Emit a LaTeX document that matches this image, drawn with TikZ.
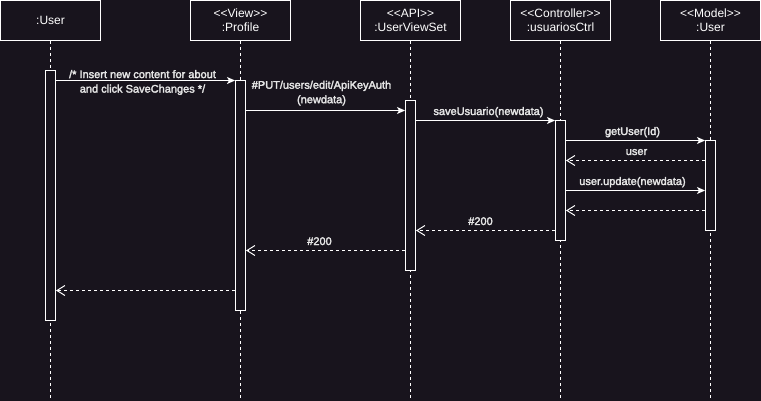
\documentclass[tikz,border=0pt]{standalone}
\usepackage{fontspec}
\setmainfont{Liberation Sans}
\newfontfamily\lblfont[FakeBold=2.5]{Liberation Sans}
\usetikzlibrary{arrows.meta, positioning}
\definecolor{bgdark}{HTML}{18141D}
\definecolor{lbltext}{HTML}{E6E6E6}
\newcommand{\stereo}[1]{<\kern0pt<#1>\kern0pt>}
\tikzset{
	lifebox/.style={draw=white, text=white, minimum width=100pt, minimum height=40pt, align=center, inner sep=0pt, font=\fontsize{12}{14}\selectfont},
	actbar/.style={draw=white, fill=bgdark, minimum width=10pt, inner sep=0pt},
	lifeline/.style={draw=white, dash pattern=on 3pt off 3pt},
	msg/.style={draw=white, -{Stealth[length=8pt, width=7pt, inset=2pt]}},
	ret/.style={draw=white, dash pattern=on 3pt off 3pt, -{Straight Barb[length=8pt, width=10pt]}},
	lbl/.style={text=lbltext, align=center, inner sep=0pt, font=\lblfont\fontsize{11}{14.5}\selectfont}
}

\begin{document}
\begin{tikzpicture}[x=1pt, y=-1pt, line width=1pt]
	\fill[bgdark] (0,0) rectangle (761,401);
	\useasboundingbox (0,0) rectangle (761,401);

	\begin{scope}[shift={(0.5,0.5)}]
		\coordinate (bottom) at (0,401);
		\foreach \n/\y in {m1/80, m2/110, m3/120, m4/140, m5/160, m6/190, m7/210, m8/230, m9/250, m10/290}
			\coordinate (\n) at (0,\y);

		\node[lifebox] (user) at (50,20) {:User};
		\node[lifebox] (profile) at (240,20) {\stereo{View}\\:Profile};
		\node[lifebox] (api) at (410,20) {\stereo{API}\\:UserViewSet};
		\node[lifebox] (ctrl) at (560,20) {\stereo{Controller}\\:usuariosCtrl};
		\node[lifebox] (model) at (710,20) {\stereo{Model}\\:User};

		\foreach \p in {user, profile, api, ctrl, model}
			\draw[lifeline] (\p.south) -- (\p.south |- bottom);

		\node[actbar, minimum height=250pt] (ubar) at (50,195) {};
		\node[actbar, minimum height=230pt] (pbar) at (240,195) {};
		\node[actbar, minimum height=170pt] (abar) at (410,185) {};
		\node[actbar, minimum height=120pt] (cbar) at (560,180) {};
		\node[actbar, minimum height=90pt] (mbar) at (710,185) {};

		\draw[msg] (ubar.east |- m1) -- (pbar.west |- m1)
			node[lbl, midway, yshift=-2pt, xshift=-3pt] (l1) {/* Insert new content for about\\and click SaveChanges */};
		\draw[msg] (pbar.east |- m2) -- (abar.west |- m2)
			node[lbl, midway, anchor=south, yshift=4.5pt, xshift=-4pt] (l2) {\#PUT/users/edit/ApiKeyAuth\\(newdata)};
		\draw[msg] (abar.east |- m3) -- (cbar.west |- m3)
			node[lbl, midway, anchor=base, yshift=5.5pt, xshift=3pt] (l3) {saveUsuario(newdata)};
		\draw[msg] (cbar.east |- m4) -- (mbar.west |- m4)
			node[lbl, midway, anchor=base, yshift=5.5pt, xshift=-3pt] (l4) {getUser(Id)};
		\draw[ret] (mbar.west |- m5) -- (cbar.east |- m5)
			node[lbl, midway, anchor=base, yshift=5.5pt, xshift=1pt] (l5) {user};
		\draw[msg] (cbar.east |- m6) -- (mbar.west |- m6)
			node[lbl, midway, anchor=base, yshift=5.5pt, xshift=-3pt] (l6) {user.update(newdata)};
		\draw[ret] (mbar.west |- m7) -- (cbar.east |- m7);
		\draw[ret] (cbar.west |- m8) -- (abar.east |- m8)
			node[lbl, midway, anchor=base, yshift=5.5pt, xshift=-5pt] (l8) {\#200};
		\draw[ret] (abar.west |- m9) -- (pbar.east |- m9)
			node[lbl, midway, anchor=base, yshift=5.5pt, xshift=-6pt] (l9) {\#200};
		\draw[ret] (pbar.west |- m10) -- (ubar.east |- m10);
	\end{scope}
\end{tikzpicture}
\end{document}
